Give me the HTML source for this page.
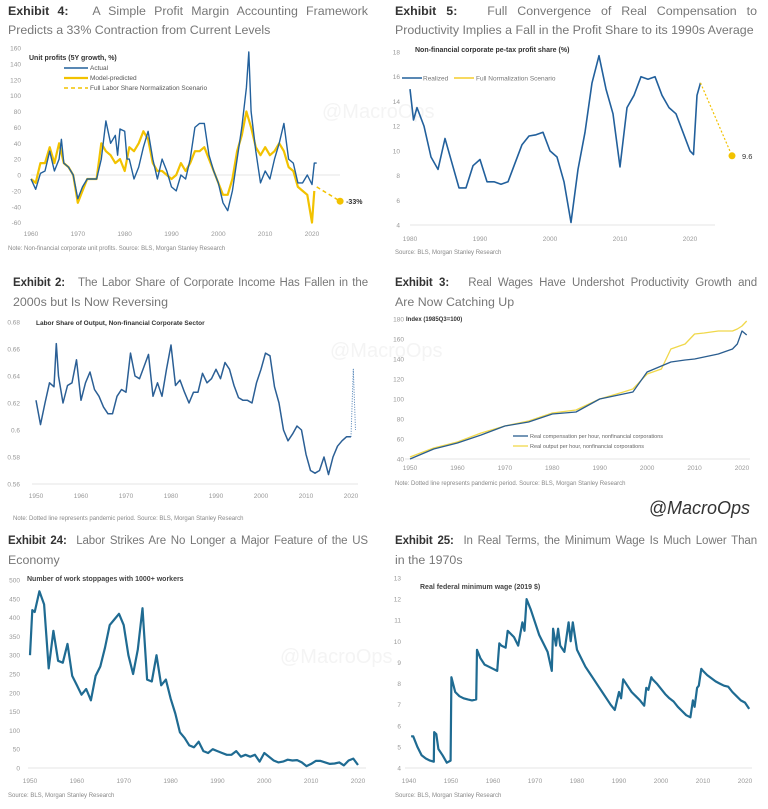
<!DOCTYPE html>
<html><head><meta charset="utf-8">
<style>
body{margin:0;background:#fff;width:768px;height:809px;overflow:hidden;position:relative;font-family:"Liberation Sans",sans-serif}
.t{position:absolute;font-size:12.4px;line-height:19px;color:#777;white-space:nowrap}
.t .l1{text-align:justify;text-align-last:justify;white-space:normal}
.t .sm{font-size:11.5px;letter-spacing:-0.1px}
.t b{color:#333}
svg{position:absolute;left:0;top:0}
</style></head><body>
<div class="t" style="left:8px;top:2px;width:360px">
<div class="l1"><b>Exhibit 4:</b>&nbsp;&nbsp; A Simple Profit Margin Accounting Framework</div><div>Predicts a 33% Contraction from Current Levels</div></div>
<div class="t" style="left:395px;top:2px;width:362px">
<div class="l1"><b>Exhibit 5:</b>&nbsp;&nbsp; Full Convergence of Real Compensation to</div><div>Productivity Implies a Fall in the Profit Share to its 1990s Average</div></div>
<div class="t" style="left:13px;top:274px;width:355px">
<div class="l1 sm"><b>Exhibit 2:</b>&nbsp;&nbsp; The Labor Share of Corporate Income Has Fallen in the</div><div>2000s but Is Now Reversing</div></div>
<div class="t" style="left:395px;top:274px;width:362px">
<div class="l1 sm"><b>Exhibit 3:</b>&nbsp;&nbsp; Real Wages Have Undershot Productivity Growth and</div><div>Are Now Catching Up</div></div>
<div class="t" style="left:8px;top:532px;width:360px">
<div class="l1 sm"><b>Exhibit 24:</b>&nbsp; Labor Strikes Are No Longer a Major Feature of the US</div><div>Economy</div></div>
<div class="t" style="left:395px;top:532px;width:362px">
<div class="l1 sm"><b>Exhibit 25:</b>&nbsp; In Real Terms, the Minimum Wage Is Much Lower Than</div><div>in the 1970s</div></div>
<svg id="s" width="768" height="809"></svg>
<script>
// Exhibit 4
const e4ActYears=[1960,1961,1962,1963,1964,1965,1966,1966.5,1967,1968,1969,1970,1971,1972,1973,1974,1975,1976,1977,1978,1978.5,1979,1980,1980.5,1981,1982,1983,1984,1985,1986,1987,1988,1989,1990,1991,1992,1993,1994,1995,1996,1997,1998,1999,2000,2001,2002,2003,2004,2005,2006,2006.5,2007,2008,2009,2010,2011,2012,2013,2014,2015,2016,2017,2018,2019,2020,2020.5,2021];
const e4ActVals=[-5,-18,2,5,30,5,20,45,15,10,0,-30,-15,-5,-5,-5,20,68,40,50,25,58,55,20,20,-5,10,35,55,20,-5,20,5,-15,-20,0,-5,20,60,65,65,25,5,-10,-35,-45,-20,20,60,110,155,80,30,-10,5,-5,20,40,65,20,15,-10,-10,0,-12,15,15];
const e4ModYears=[1960,1961,1962,1963,1964,1965,1966,1967,1968,1969,1970,1971,1972,1973,1974,1975,1976,1977,1978,1979,1980,1981,1982,1983,1984,1985,1986,1987,1988,1989,1990,1991,1992,1993,1994,1995,1996,1997,1998,1999,2000,2001,2002,2003,2004,2005,2006,2007,2008,2009,2010,2011,2012,2013,2014,2015,2016,2017,2018,2019,2020,2020.5];
const e4ModVals=[-5,-10,15,15,35,15,40,15,10,0,-35,-20,-5,-5,-5,40,30,25,15,20,5,35,30,40,55,45,15,5,5,0,-5,0,15,5,15,30,30,35,20,5,-10,-25,-25,-5,30,50,80,60,35,25,35,25,30,40,30,10,5,-15,-20,-25,-60,-20];
const e4ScnYears=[2021,2026];
const e4ScnVals=[-15,-33];
const e4YTicks=[-60,-40,-20,0,20,40,60,80,100,120,140,160];
const e4XTicks=[1960,1970,1980,1990,2000,2010,2020];
// Exhibit 5
const e5Years=[1980,1980.5,1981,1982,1983,1984,1985,1986,1987,1988,1989,1990,1991,1992,1993,1994,1995,1996,1997,1998,1999,2000,2001,2002,2003,2004,2005,2006,2007,2008,2009,2010,2011,2012,2013,2014,2015,2016,2017,2018,2019,2020,2020.5,2021,2021.5];
const e5Vals=[15,12.5,13.5,12,9.5,8.5,11,9,7,7,8.8,9.3,7.5,7.5,7.3,7.5,9,10.5,11.2,11.3,11.5,10,9.5,7.5,4.2,8.5,11.5,15.5,17.7,15,13,8.7,13.5,14.5,16,15.8,16,14.5,13.5,13,11.5,10,9.7,14.5,15.5];
const e5ScnYears=[2021.5,2026];
const e5ScnVals=[15.5,9.6];
const e5YTicks=[4,6,8,10,12,14,16,18];
const e5XTicks=[1980,1990,2000,2010,2020];
// Exhibit 2
const e2Years=[1950,1951,1952,1953,1954,1954.5,1955,1956,1957,1958,1959,1960,1961,1962,1963,1964,1965,1966,1967,1968,1969,1970,1971,1972,1973,1974,1975,1976,1977,1978,1979,1980,1981,1982,1983,1984,1985,1986,1987,1988,1989,1990,1991,1992,1993,1994,1995,1996,1997,1998,1999,2000,2001,2002,2003,2004,2005,2006,2007,2008,2009,2010,2011,2012,2013,2014,2015,2016,2017,2018,2019,2020];
const e2Vals=[0.622,0.604,0.62,0.635,0.632,0.664,0.64,0.62,0.633,0.635,0.652,0.622,0.635,0.643,0.63,0.625,0.617,0.612,0.612,0.625,0.63,0.628,0.657,0.64,0.638,0.647,0.656,0.625,0.635,0.625,0.645,0.663,0.633,0.637,0.628,0.62,0.628,0.628,0.642,0.635,0.638,0.645,0.638,0.65,0.645,0.633,0.624,0.622,0.622,0.62,0.635,0.645,0.657,0.655,0.632,0.62,0.6,0.592,0.597,0.603,0.6,0.582,0.57,0.568,0.57,0.58,0.567,0.58,0.588,0.592,0.595,0.595];
const e2DotYears=[2020,2020.5,2021];
const e2DotVals=[0.595,0.645,0.6];
const e2YTicks=[0.56,0.58,0.6,0.62,0.64,0.66,0.68];
const e2XTicks=[1950,1960,1970,1980,1990,2000,2010,2020];
// Exhibit 3
const e3Years=[1950,1955,1960,1965,1970,1975,1980,1985,1990,1995,1997,2000,2003,2005,2008,2010,2012,2015,2018,2019,2020,2021];
const e3Comp=[40,50,56,64,73,77,85,87,100,105,107,127,133,137,139,140,142,145,150,155,168,164];
const e3Out=[42,51,57,66,73,78,86,89,100,107,110,125,130,150,155,165,166,168,168,170,173,178];
const e3YTicks=[40,60,80,100,120,140,160,180];
const e3XTicks=[1950,1960,1970,1980,1990,2000,2010,2020];
// Exhibit 24
const e24Years=[1950,1950.5,1951,1952,1953,1954,1955,1956,1957,1958,1959,1960,1961,1962,1963,1964,1965,1966,1967,1968,1969,1970,1971,1972,1973,1974,1975,1976,1977,1978,1979,1980,1981,1982,1983,1984,1985,1986,1987,1988,1989,1990,1991,1992,1993,1994,1995,1996,1997,1998,1999,2000,2001,2002,2003,2004,2005,2006,2007,2008,2009,2010,2011,2012,2013,2014,2015,2016,2017,2018,2019,2020];
const e24Vals=[300,420,415,470,435,265,365,285,280,330,245,220,195,210,180,245,270,320,380,395,410,380,300,250,315,425,235,230,300,220,235,185,145,95,80,60,55,70,45,40,50,45,40,35,35,45,30,35,30,35,17,40,30,20,15,17,22,20,21,15,5,11,19,19,15,11,12,15,7,20,25,8];
const e24YTicks=[0,50,100,150,200,250,300,350,400,450,500];
const e24XTicks=[1950,1960,1970,1980,1990,2000,2010,2020];
// Exhibit 25
const e25Years=[1940.5,1941,1942,1943,1944,1945,1945.9,1946,1946.5,1947,1948,1949,1949.9,1950.1,1951,1952,1953,1954,1955,1956,1956.2,1957,1958,1959,1960,1961,1961.5,1962,1963,1963.5,1964,1965,1966,1967,1967.5,1968,1969,1970,1971,1972,1973,1974,1974.3,1975,1975.5,1976,1977,1978,1978.5,1979,1980,1981,1982,1983,1984,1985,1986,1987,1988,1989,1990,1990.5,1991,1992,1993,1994,1995,1996,1996.5,1997,1997.7,1998,1999,2000,2001,2002,2003,2004,2005,2006,2007,2007.6,2008,2008.6,2009,2009.6,2010,2011,2012,2013,2014,2015,2016,2017,2018,2019,2020,2021];
const e25Vals=[5.5,5.5,5.0,4.6,4.45,4.35,4.3,5.7,5.6,4.9,4.6,4.25,4.35,8.3,7.6,7.4,7.3,7.25,7.2,7.25,9.6,9.2,8.9,8.8,8.7,8.6,9.9,9.8,9.7,10.5,10.4,10.2,9.8,10.9,10.5,12.0,11.5,10.9,10.3,9.9,9.5,8.6,10.6,9.8,10.6,9.8,9.5,10.9,10.0,10.9,9.6,9.2,8.8,8.5,8.2,7.9,7.6,7.3,7.0,6.75,7.6,7.3,8.2,7.9,7.6,7.4,7.2,6.95,7.8,7.7,8.3,8.2,8.0,7.75,7.5,7.3,7.15,6.9,6.7,6.5,6.4,7.2,6.9,7.8,7.9,8.7,8.6,8.4,8.25,8.1,8.0,7.9,7.85,7.6,7.4,7.2,7.1,6.8];
const e25YTicks=[4,5,6,7,8,9,10,11,12,13];
const e25XTicks=[1940,1950,1960,1970,1980,1990,2000,2010,2020];

const S=document.getElementById('s');
const NS='http://www.w3.org/2000/svg';
function el(tag,attrs,txt){const e=document.createElementNS(NS,tag);for(const k in attrs)e.setAttribute(k,attrs[k]);if(txt!==undefined)e.textContent=txt;S.appendChild(e);return e;}
function lin(d0,d1,r0,r1){return v=>r0+(v-d0)*(r1-r0)/(d1-d0);}
function pts(xs,ys,X,Y){return xs.map((x,i)=>X(x).toFixed(1)+','+Y(ys[i]).toFixed(1)).join(' ');}
function axes(name,X,Y,yt,xt,ylx,xly){
  yt.forEach(v=>{const t=el('text',{x:ylx,y:Y(v)+2.5,'font-size':6.5,fill:'#999','text-anchor':'end'},v);
    
    });
  xt.forEach(v=>{const t=el('text',{x:X(v),y:xly,'font-size':6.5,fill:'#999','text-anchor':'middle'},v);
    
    });
}
function line(name,xs,ys,X,Y,color,w,dash){
  const a={points:pts(xs,ys,X,Y),fill:'none',stroke:color,'stroke-width':w,'stroke-linejoin':'round'};
  if(dash)a['stroke-dasharray']=dash;
  const p=el('polyline',a);
  
  
  return p;
}
function txt(name,x,y,s,size,fill,weight,anchor){
  const t=el('text',{x:x,y:y,'font-size':size,fill:fill,'font-weight':weight||'normal','text-anchor':anchor||'start'},s);
  
  
  return t;
}
function hline(name,x1,x2,y){const l=el('line',{x1:x1,x2:x2,y1:y,y2:y,stroke:'#ddd','stroke-width':0.8});
  
  }
const BLUE='#22609c',YEL='#f2c200',TEAL='#1f6b92';
function wm(name,x,y){txt(name,x,y,'@MacroOps',20,'#f4f4f4','normal');}

// Exhibit 4
{const X=lin(1960,2020,31,312),Y=lin(0,160,175,48);
wm('watermark-1',322,118);
hline('e4-zero-line',31,340,Y(0));
axes('e4',X,Y,e4YTicks,e4XTicks,21,236);
line('e4-model-line',e4ModYears,e4ModVals,X,Y,YEL,2.2);
line('e4-actual-line',e4ActYears,e4ActVals,X,Y,BLUE,1.4);
line('e4-scenario-line',e4ScnYears,e4ScnVals,X,Y,YEL,1.5,'4,3');
const c=el('circle',{cx:X(2026),cy:Y(-33),r:3.5,fill:YEL});


txt('e4-scenario-label',X(2026)+6,Y(-33)+3,'-33%',7,'#333','bold');
txt('e4-chart-title',29,60,'Unit profits (5Y growth, %)',7,'#333','bold');
line('e4-legend-actual',[0,1],[0,0],lin(0,1,64,88),()=>68,BLUE,1.4);
txt('e4-legend-actual-label',90,70,'Actual',6.5,'#555');
line('e4-legend-model',[0,1],[0,0],lin(0,1,64,88),()=>78,YEL,2.2);
txt('e4-legend-model-label',90,80,'Model-predicted',6.5,'#555');
line('e4-legend-scenario',[0,1],[0,0],lin(0,1,64,88),()=>88,YEL,1.5,'4,3');
txt('e4-legend-scenario-label',90,90,'Full Labor Share Normalization Scenario',6.5,'#555');
txt('e4-footnote',8,250,'Note: Non-financial corporate unit profits. Source: BLS, Morgan Stanley Research',6,'#888');}

// Exhibit 5
{const X=lin(1980,2020,410,690),Y=lin(4,18,225,52);
hline('e5-axis',410,715,225);
axes('e5',X,Y,e5YTicks,e5XTicks,400,241);
line('e5-realized-line',e5Years,e5Vals,X,Y,BLUE,1.6);
line('e5-scenario-line',e5ScnYears,e5ScnVals,X,Y,YEL,1.2,'2,2');
const c=el('circle',{cx:X(2026),cy:Y(9.6),r:3.5,fill:YEL});


txt('e5-scenario-label',X(2026)+10,Y(9.6)+3,'9.6',7.5,'#333');
txt('e5-chart-title',415,52,'Non-financial corporate pe-tax profit share (%)',7,'#333','bold');
line('e5-legend-realized',[0,1],[0,0],lin(0,1,402,422),()=>78,BLUE,1.6);
txt('e5-legend-realized-label',423,80.5,'Realized',6.5,'#777');
line('e5-legend-scenario',[0,1],[0,0],lin(0,1,454,474),()=>78,YEL,1.2);
txt('e5-legend-scenario-label',476,80.5,'Full Normalization Scenario',6.5,'#777');
txt('e5-footnote',395,254,'Source: BLS, Morgan Stanley Research',6,'#888');}

// Exhibit 2
{const X=lin(1950,2020,36,351),Y=lin(0.56,0.68,484,322);
wm('watermark-3',330,357);
hline('e2-axis',32,358,484);
axes('e2',X,Y,e2YTicks,e2XTicks,20,498);
line('e2-labor-share-line',e2Years,e2Vals,X,Y,'#2b5f95',1.5);
line('e2-pandemic-dotted',e2DotYears,e2DotVals,X,Y,'#4a7db3',1,'1,1.5');
txt('e2-chart-title',36,325,'Labor Share of Output, Non-financial Corporate Sector',6.5,'#333','bold');
txt('e2-footnote',13,520,'Note: Dotted line represents pandemic period. Source: BLS, Morgan Stanley Research',6,'#888');}

// Exhibit 3
{const X=lin(1950,2020,410,742),Y=lin(40,180,459,319);
hline('e3-axis',405,750,459);
axes('e3',X,Y,e3YTicks,e3XTicks,404,470);
line('e3-output-line',e3Years,e3Out,X,Y,'#f0d84a',1.3);
line('e3-comp-line',e3Years,e3Comp,X,Y,'#2a5d8f',1.3);
txt('e3-chart-title',406,321,'Index (1985Q3=100)',6,'#333','bold');
line('e3-legend-comp',[0,1],[0,0],lin(0,1,513,528),()=>436,'#2a5d8f',1.3);
txt('e3-legend-comp-label',530,438,'Real compensation per hour, nonfinancial corporations',5.5,'#666');
line('e3-legend-out',[0,1],[0,0],lin(0,1,513,528),()=>446,'#f0d84a',1.3);
txt('e3-legend-out-label',530,448,'Real output per hour, nonfinancial corporations',5.5,'#666');
txt('e3-footnote',395,485,'Note: Dotted line represents pandemic period. Source: BLS, Morgan Stanley Research',6,'#888');
const lg=txt('macroops-logo',750,514,'@MacroOps',18,'#333','normal','end');
lg.setAttribute('font-style','italic');}

// Exhibit 24
{const X=lin(1950,2020,30,358),Y=lin(0,500,768,580);
wm('watermark-5',280,663);
hline('e24-axis',28,366,768);
axes('e24',X,Y,e24YTicks,e24XTicks,20,783);
line('e24-stoppages-line',e24Years,e24Vals,X,Y,TEAL,2.2);
txt('e24-chart-title',27,581,'Number of work stoppages with 1000+ workers',7,'#444','bold');
txt('e24-footnote',8,797,'Source: BLS, Morgan Stanley Research',6,'#888');}

// Exhibit 25
{const X=lin(1940,2020,409,745),Y=lin(4,13,768,578);
hline('e25-axis',405,752,768);
axes('e25',X,Y,e25YTicks,e25XTicks,401,783);
line('e25-min-wage-line',e25Years,e25Vals,X,Y,TEAL,2.2);
txt('e25-chart-title',420,589,'Real federal minimum wage (2019 $)',7,'#444','bold');
txt('e25-footnote',395,797,'Source: BLS, Morgan Stanley Research',6,'#888');}
</script>
</body></html>
